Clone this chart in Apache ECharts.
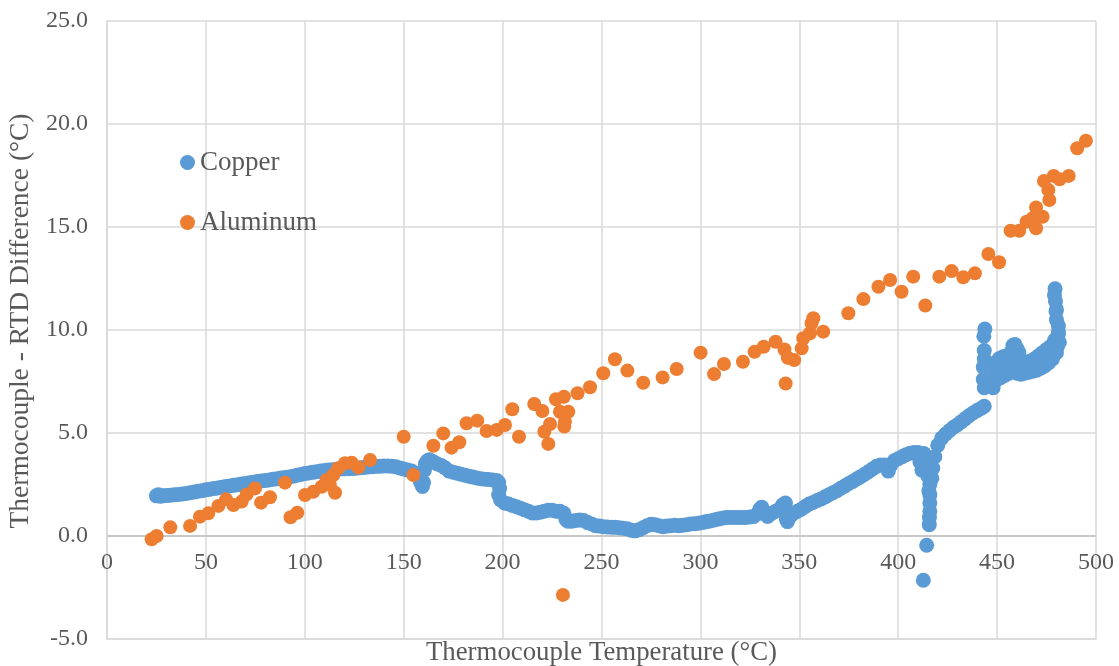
<!DOCTYPE html>
<html>
<head>
<meta charset="utf-8">
<script src="https://cdn.jsdelivr.net/npm/echarts@6/dist/echarts.min.js"></script>
<style>
html,body{margin:0;padding:0;background:#fff;}
#chart{width:1119px;height:666px;}
</style>
</head>
<body>
<div id="chart"></div>
<script>
// ---- Data ----
const xTicks = [0, 50, 100, 150, 200, 250, 300, 350, 400, 450, 500];
const yTicks = [-5, 0, 5, 10, 15, 20, 25];

const copperX = [
25,26,27,28,30,32,34,36,38,40,42,44,46,48,50,52,54,56,58,60,62,64,66,68,70,72,74,76,78,80,
82,84,86,88,90,92,94,96,98,100,102,104,106,108,110,112,114,116,118,120,122,124,126,128,130,132,134,136,138,140,
142,144,146,148,150,152,154,156,157.5,158.5,159.5,160,160.5,161,162,163,165,167,169,171,173,175,177,179,181,183,185,187,189,191,
193,195,197,198,198.5,198,199,201,203,205,207,209,211,213,215,217,219,221,223,225,227,229,231,232,233,235,237,239,241,243,
245,247,249,251,253,255,257,259,261,263,265,267,269,271,273,275,277,279,281,283,285,287,289,291,293,295,297,299,301,303,
305,307,309,311,313,315,317,319,321,323,325,327,329,330,331,332,334,336,338,340,341.5,343,343.5,344,345,347,349,351,353,355,
357,359,361,363,365,367,369,371,373,375,377,379,381,383,385,387,389,391,393,395,396,398,400,402,404,406,408,410,411,412,
413,414,415,415.5,416,416,416,416,415.8,415.7,414.4,412.7,417,417.5,418.5,420,422,424,426,428,430,432,434,436,438,440,442,443.5,
443.5,443,443,443.5,443.5,443.3,443.8,446,447,448,449,450,451,452,453,454,455,456,457,458,459,460,461,462,463,464,465,466,
467,468,469,470,471,472,473,474,475,476,477,478,479,480,481,481.5,480.5,481,480,479.8,479.5,479.3,479,480,
446,448,450,452,454,456,458,460,462,464,466,468,470,472,474,476,478,480,
447,449,451,453,455,457,459,461,463,465,467,469,471,473,475,477,479,481
];
const copperY = [
1.95,2.0,1.93,1.95,1.96,1.98,2.0,2.02,2.04,2.06,2.1,2.13,2.17,2.2,2.24,2.27,2.3,2.33,2.37,2.4,2.43,2.46,2.49,2.52,2.55,2.58,2.61,2.64,2.67,2.7,
2.72,2.75,2.78,2.81,2.84,2.87,2.9,2.95,2.99,3.03,3.06,3.09,3.12,3.15,3.18,3.2,3.22,3.24,3.25,3.26,3.27,3.28,3.29,3.31,3.33,3.35,3.36,3.38,3.39,3.4,
3.4,3.39,3.36,3.3,3.25,3.2,3.15,3.05,2.85,2.6,2.4,2.6,3.2,3.5,3.65,3.7,3.6,3.5,3.42,3.3,3.15,3.1,3.05,3.0,2.95,2.9,2.86,2.82,2.78,2.76,
2.74,2.72,2.7,2.6,2.3,2.0,1.75,1.6,1.55,1.48,1.42,1.35,1.28,1.2,1.12,1.12,1.15,1.2,1.25,1.25,1.2,1.2,1.1,0.8,0.72,0.72,0.75,0.78,0.75,0.65,
0.58,0.5,0.48,0.45,0.44,0.43,0.42,0.4,0.38,0.35,0.28,0.25,0.3,0.4,0.5,0.57,0.55,0.5,0.45,0.48,0.5,0.52,0.5,0.52,0.55,0.58,0.6,0.62,0.65,0.7,
0.73,0.78,0.82,0.86,0.9,0.9,0.9,0.9,0.9,0.9,0.92,0.95,1.1,1.3,1.4,1.1,0.95,1.1,1.2,1.3,1.5,1.6,0.8,0.7,0.9,1.1,1.2,1.3,1.43,1.55,
1.63,1.72,1.8,1.9,2.0,2.1,2.2,2.32,2.43,2.55,2.65,2.77,2.88,3.0,3.12,3.25,3.38,3.45,3.45,3.15,3.4,3.65,3.75,3.85,3.95,4.02,4.05,4.05,3.6,3.2,
4.0,3.5,2.9,2.2,2.5,2.0,1.6,1.2,0.9,0.55,-0.45,-2.15,2.8,3.3,3.85,4.4,4.75,4.95,5.12,5.28,5.4,5.55,5.7,5.85,5.98,6.1,6.2,6.3,
7.2,7.6,8.2,8.6,9.0,9.7,10.05,7.5,7.4,7.2,7.8,8.1,8.3,8.2,8.5,8.35,8.6,8.2,8.8,9.25,8.9,9.1,8.5,8.0,7.9,8.0,8.1,8.05,
8.2,8.15,8.3,8.2,8.4,8.25,8.45,8.5,8.6,8.75,8.9,9.1,9.3,9.6,9.9,9.4,9.2,10.2,10.5,10.9,11.4,12.0,11.7,11.0,
7.3,7.5,7.6,7.7,7.8,7.9,8.0,7.9,7.85,7.9,7.95,8.0,8.05,8.15,8.25,8.4,8.6,8.9,
8.2,8.4,8.6,8.7,8.75,8.9,9.3,8.9,8.5,8.4,8.5,8.6,8.75,8.9,9.05,9.2,9.5,9.8
];

const aluminumX = [
22.6,25.1,32.0,42.0,47.0,51.2,56.3,60.2,63.9,68.1,70.6,74.8,77.9,82.4,90.0,92.8,96.2,100.1,104.3,108.5,
111.0,112.7,114.4,115.3,116.9,120.3,123.7,127.1,133.0,150.0,154.9,165.0,170.0,174.2,178.1,181.8,187.2,191.9,197.0,201.2,
204.9,208.3,216.0,220.1,221.1,223.1,224.0,227.0,229.0,230.5,231.0,231.2,231.5,233.2,237.9,244.2,250.9,256.8,263.1,271.1,
280.9,288.0,300.1,306.9,311.9,321.5,327.4,332.0,338.0,342.5,344.2,347.4,343.1,351.2,352.0,355.4,356.2,357.1,362.1,374.8,
382.4,390.0,395.9,401.7,407.6,413.7,420.8,427.0,432.9,438.8,445.6,451.0,456.8,461.2,464.9,467.9,469.7,469.7,473.0,473.7,
475.9,476.4,478.6,481.6,486.2,490.5,494.9
];
const aluminumY = [
-0.16,0.0,0.42,0.49,0.94,1.10,1.46,1.78,1.50,1.67,2.02,2.31,1.62,1.88,2.59,0.91,1.13,1.99,2.15,2.39,
2.72,2.48,2.96,2.10,3.29,3.53,3.56,3.33,3.69,4.82,2.96,4.38,4.98,4.29,4.55,5.47,5.60,5.10,5.15,5.39,
6.15,4.82,6.41,6.07,5.06,4.47,5.44,6.64,6.03,-2.86,6.76,5.31,5.55,6.03,6.93,7.22,7.90,8.58,8.03,7.44,
7.70,8.11,8.90,7.86,8.35,8.46,8.94,9.19,9.43,9.05,8.65,8.54,7.40,9.11,9.60,9.84,10.33,10.57,9.92,10.81,
11.50,12.10,12.43,11.86,12.59,11.19,12.59,12.86,12.56,12.75,13.69,13.29,14.82,14.82,15.26,15.42,15.95,14.94,15.50,17.23,
16.80,16.31,17.48,17.32,17.48,18.82,19.19
];

const seriesNames = ['Copper', 'Aluminum'];
const xTitle = 'Thermocouple Temperature (°C)';
const yTitle = 'Thermocouple - RTD Difference (°C)';

// ---- Build ----
const zip = (xs, ys) => xs.map((x, i) => [x, ys[i]]);
const FONT = '"Liberation Serif", "Times New Roman", serif';
const GRAY = '#595959';

const chart = echarts.init(document.getElementById('chart'), null, {renderer: 'canvas'});
chart.setOption({
  animation: false,
  backgroundColor: '#ffffff',
  textStyle: {fontFamily: FONT},
  grid: {left: 107, right: 23, top: 21, bottom: 27, containLabel: false, outerBoundsMode: 'none'},
  legend: {
    orient: 'vertical',
    left: 175, top: 144,
    itemWidth: 15, itemHeight: 15, itemGap: 33,
    icon: 'circle',
    data: seriesNames,
    textStyle: {fontFamily: FONT, fontSize: 27, color: GRAY, padding: [0, 0, 0, 0]}
  },
  graphic: [{
    type: 'text', x: 601.5, y: 653, silent: true,
    style: {
      text: xTitle, fill: GRAY, font: '26.8px ' + FONT,
      textAlign: 'center', textVerticalAlign: 'middle', verticalAlign: 'middle'
    }
  }],
  xAxis: {
    type: 'value',
    min: xTicks[0], max: xTicks[xTicks.length - 1], interval: xTicks[1] - xTicks[0],
    axisLine: {show: true, onZero: false, lineStyle: {color: '#D9D9D9', width: 1.5}},
    axisTick: {show: false},
    axisLabel: {fontFamily: FONT, fontSize: 24, color: GRAY, margin: -88},
    splitLine: {show: true, lineStyle: {color: '#D9D9D9', width: 1.5}}
  },
  yAxis: {
    type: 'value',
    min: yTicks[0], max: yTicks[yTicks.length - 1], interval: yTicks[1] - yTicks[0],
    name: yTitle, nameLocation: 'middle', nameGap: 58, nameRotate: 90,
    nameTextStyle: {fontFamily: FONT, fontSize: 27.5, color: GRAY, padding: [0, 0, 0, 18]},
    axisLine: {show: true, onZero: false, lineStyle: {color: '#D9D9D9', width: 1.5}},
    axisTick: {show: false},
    axisLabel: {fontFamily: FONT, fontSize: 24, color: GRAY, margin: 19, formatter: v => v.toFixed(1)},
    splitLine: {show: true, lineStyle: {color: '#D9D9D9', width: 1.5}}
  },
  series: [
    {
      name: seriesNames[0], type: 'scatter', symbol: 'circle', symbolSize: 15,
      itemStyle: {color: '#5B9BD5', opacity: 1},
      data: zip(copperX, copperY), z: 2,
      markLine: {
        silent: true, symbol: 'none', label: {show: false},
        lineStyle: {color: '#BFBFBF', width: 1.5, type: 'solid'},
        data: [{yAxis: 0}], z: 1
      }
    },
    {
      name: seriesNames[1], type: 'scatter', symbol: 'circle', symbolSize: 14,
      itemStyle: {color: '#ED7D31', opacity: 1},
      data: zip(aluminumX, aluminumY), z: 3
    }
  ]
});
</script>
</body>
</html>
